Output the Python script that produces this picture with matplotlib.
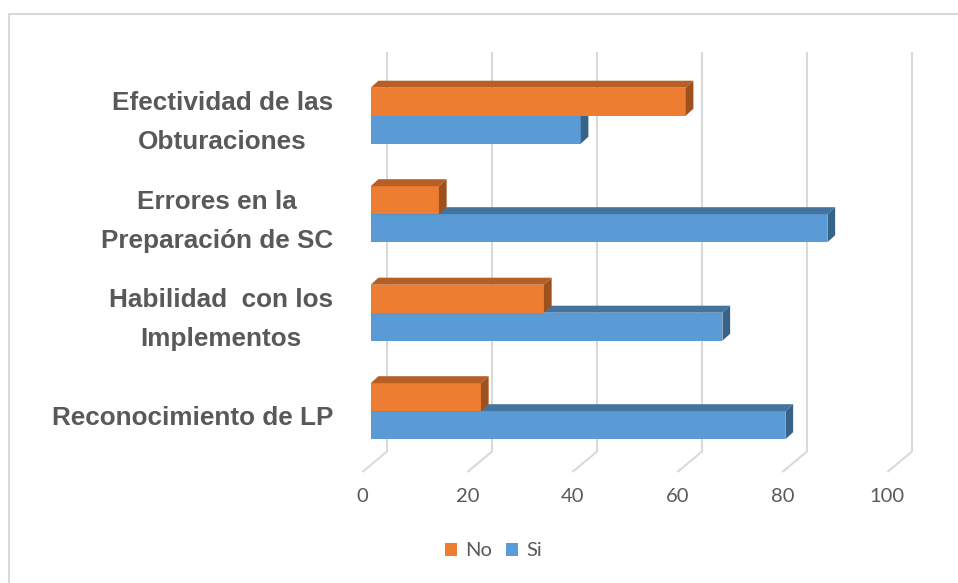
import matplotlib
matplotlib.use("Agg")
import matplotlib.pyplot as plt
from matplotlib.patches import Polygon
from matplotlib.lines import Line2D
import numpy as np

# ---------------- data ----------------
categories = ["Reconocimiento de LP",
              "Habilidad  con los\nImplementos",
              "Errores en la\nPreparación de SC",
              "Efectividad de las\nObturaciones"]
no_vals = [21, 33, 13, 60]
si_vals = [79, 67, 87, 40]
ticks = [0, 20, 40, 60, 80, 100]
tick_labels = ["0", "20", "40", "60", "80", "100"]
series_names = ["No", "Si"]

# ---------------- style ----------------
NO_FRONT, NO_TOP, NO_SIDE = "#ED7D31", "#B65E24", "#9E511D"
SI_FRONT, SI_TOP, SI_SIDE = "#5B9BD5", "#43739F", "#386389"
GRID = "#D9D9D9"
TXT = "#595959"

W, H = 958, 583
fig = plt.figure(figsize=(W / 100, H / 100), dpi=100)
ax = fig.add_axes([0, 0, 1, 1])
ax.set_axis_off()

# layout: value 0 of bar front plane at pixel X0, PXU px per unit
X0, PXU = 370.7, 5.25
Y0, PYU = 411.2, 98.5
ax.set_xlim(-X0 / PXU, (W - X0) / PXU)
ax.set_ylim((Y0 - H) / PYU, Y0 / PYU)


def dx(p):
    return p / PXU


def dy(p):
    return p / PYU


def xpix(p):
    return (p - X0) / PXU


def ypix(p):
    return (Y0 - p) / PYU


# depth offsets
DXB, DYB = dx(7.7), dy(7.0)        # bar depth
BX, BY = dx(16.3), dy(13.5)        # back wall
FX, FY = dx(-8.3), dy(-7.0)        # front floor edge
FLOOR = ypix(465)
TOP = ypix(52)

# gridlines on back wall + floor diagonals
for t in ticks:
    ax.plot([t + BX, t + BX], [FLOOR + BY, TOP], color=GRID, lw=1.5,
            zorder=1, solid_capstyle="butt")
    ax.plot([t + FX, t + BX], [FLOOR + FY, FLOOR + BY], color=GRID, lw=1.5,
            zorder=1, solid_capstyle="butt")

y = np.arange(len(categories))
h = dy(28)


def faces(vals, centers, top_c, side_c, z):
    for v, c in zip(vals, centers):
        yt, yb = c + h / 2, c - h / 2
        ax.add_patch(Polygon([(0, yt), (v, yt), (v + DXB, yt + DYB), (DXB, yt + DYB)],
                             closed=True, facecolor=top_c, edgecolor="none", zorder=z))
        ax.add_patch(Polygon([(v, yb), (v, yt), (v + DXB, yt + DYB), (v + DXB, yb + DYB)],
                             closed=True, facecolor=side_c, edgecolor="none", zorder=z))


si_bars = ax.barh(y - h / 2, si_vals, height=h, left=0, color=SI_FRONT,
                  zorder=3, label=series_names[1], linewidth=0)
faces(si_vals, y - h / 2, SI_TOP, SI_SIDE, 3)
no_bars = ax.barh(y + h / 2, no_vals, height=h, left=0, color=NO_FRONT,
                  zorder=4, label=series_names[0], linewidth=0)
faces(no_vals, y + h / 2, NO_TOP, NO_SIDE, 4)

# value tick labels
for t, lbl in zip(ticks, tick_labels):
    ax.text(t + FX, ypix(496), lbl, ha="center", va="center",
            fontsize=14.5, family="Lato", color=TXT)

# category labels
for yi, cat in zip(y, categories):
    ax.text(xpix(333), yi - dy(7), cat, ha="right", va="center",
            multialignment="center", linespacing=1.8,
            fontsize=18.8, fontweight="bold", family="Liberation Sans", color=TXT)

# legend
fig.legend(handles=[no_bars, si_bars], labels=series_names, loc="center",
           bbox_to_anchor=(493.5 / W, 1 - 551 / H), ncol=2, frameon=False,
           prop=dict(family="Lato", size=14.5), labelcolor=TXT,
           handlelength=0.6, handleheight=0.6, handletextpad=0.4,
           columnspacing=0.7)

# chart border
fig.add_artist(Line2D([9 / W, 9 / W], [0, 1 - 14 / H], transform=fig.transFigure,
                      color=GRID, lw=1.5))
fig.add_artist(Line2D([9 / W, 1], [1 - 14 / H, 1 - 14 / H], transform=fig.transFigure,
                      color=GRID, lw=1.5))

fig.savefig("out.png", dpi=100)
